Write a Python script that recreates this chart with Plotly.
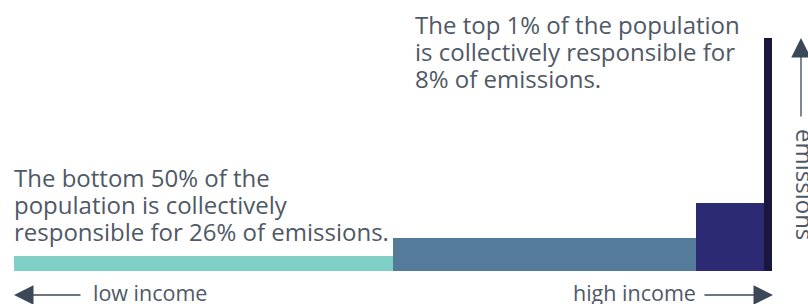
import plotly.graph_objects as go

# Data
groups = ["Bottom 50%", "Middle 40%", "Top 10-1%", "Top 1%"]
population_share = [50, 40, 9, 1]      # % of population
emission_share = [26, 45, 21, 8]       # % of emissions
colors = ["#80d0c8", "#557b9b", "#2b2a72", "#19173e"]

top_lines = ["The top 1% of the population",
             "is collectively responsible for",
             "8% of emissions."]
bottom_lines = ["The bottom 50% of the",
                "population is collectively",
                "responsible for 26% of emissions."]

# Derived: bar positions and per-capita heights
lefts = []
acc = 0
for p in population_share:
    lefts.append(acc)
    acc += p
centers = [l + p / 2 for l, p in zip(lefts, population_share)]
heights = [e / p for e, p in zip(emission_share, population_share)]

fig = go.Figure()
fig.add_trace(go.Bar(
    x=centers, y=heights, width=population_share,
    marker=dict(color=colors, line=dict(width=0)),
    hoverinfo="skip", showlegend=False,
))

W, H = 808, 304
L, R, T, B = 14, 36, 38, 33
pw, ph = W - L - R, H - T - B

def px(xp):
    return (xp - L) / pw

def py(yp):
    return (H - B - yp) / ph

FONT = "Open Sans"
TXT = "#4f5965"
ARR = "#3c4858"
FS = 24

def line_ann(text, x_left, baseline, fs):
    return dict(text=text, x=px(x_left), y=py(baseline - 0.39 * fs),
                xref="paper", yref="paper", xanchor="left", yanchor="middle",
                align="left", showarrow=False,
                font=dict(family=FONT, size=fs, color=TXT))

annotations = []
for i, t in enumerate(top_lines):
    annotations.append(line_ann(t, 413, 34 + 27 * i, FS))
for i, t in enumerate(bottom_lines):
    annotations.append(line_ann(t, 12, 187 + 27 * i, FS))

annotations += [
    dict(text="low income", x=px(91), y=py(301 - 0.39 * 21.5), xref="paper", yref="paper",
         xanchor="left", yanchor="middle", showarrow=False,
         font=dict(family=FONT, size=21.5, color=TXT)),
    dict(text="high income", x=px(698), y=py(301 - 0.39 * 21.5), xref="paper", yref="paper",
         xanchor="right", yanchor="middle", showarrow=False,
         font=dict(family=FONT, size=21.5, color=TXT)),
    dict(text="emissions", x=px(806), y=py(184), xref="paper", yref="paper",
         xanchor="center", yanchor="middle", textangle=90, showarrow=False,
         font=dict(family=FONT, size=24, color=TXT)),
    # arrows
    dict(text="", x=px(14), y=py(295), xref="paper", yref="paper",
         showarrow=True, ax=68, ay=0, arrowhead=2, arrowsize=3, arrowwidth=1.3,
         arrowcolor=ARR, standoff=0),
    dict(text="", x=px(773), y=py(295), xref="paper", yref="paper",
         showarrow=True, ax=-70, ay=0, arrowhead=2, arrowsize=3, arrowwidth=1.3,
         arrowcolor=ARR, standoff=0),
    dict(text="", x=px(801), y=py(38), xref="paper", yref="paper",
         showarrow=True, ax=0, ay=80, arrowhead=2, arrowsize=3, arrowwidth=1.3,
         arrowcolor=ARR, standoff=0),
]

fig.update_layout(
    width=W, height=H,
    margin=dict(l=L, r=R, t=T, b=B, pad=0),
    paper_bgcolor="white", plot_bgcolor="white",
    xaxis=dict(range=[0, 100], visible=False, fixedrange=True),
    yaxis=dict(range=[0, 8], visible=False, fixedrange=True),
    bargap=0, barmode="overlay",
    annotations=annotations,
    font=dict(family=FONT),
)

fig.write_html("out.html", config={"displayModeBar": False},
               post_script="document.body.style.margin='0';document.body.style.overflow='hidden';")
